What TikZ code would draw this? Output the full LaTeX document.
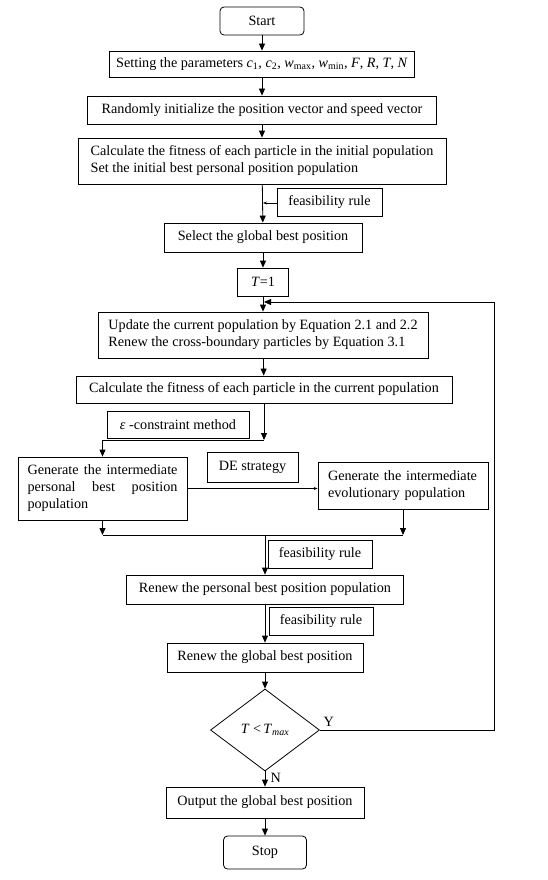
\documentclass[tikz,border=0pt]{standalone}
\usepackage{fontspec}
\setmainfont{Liberation Serif}
\usetikzlibrary{shapes.geometric,arrows.meta}

\newcommand\fullline[1]{\makebox[150pt][s]{#1}}

\begin{document}
\begin{tikzpicture}[x=1pt,y=-1pt,
    font=\fontsize{14.2}{17}\selectfont,
    line width=0.8pt,
    box/.style={draw, rectangle, inner sep=2pt},
    term/.style={draw, rounded corners=4pt, inner sep=2pt},
    note/.style={draw, rectangle, inner sep=2pt},
    arr/.style={-{Triangle[length=7pt,width=6pt]}},
    thin arr/.style={-{Stealth[length=4pt,width=3pt]}, line width=0.5pt}]
    \useasboundingbox (0,0) rectangle (547,880);

    % Initialisation
    \node[term, minimum width=84pt, minimum height=28pt] (start) at (262,21) {Start};
    \node[box, minimum width=305pt, minimum height=26pt] (set) at (262,64)
        {Setting the parameters \textit{c}\textsubscript{1}, \textit{c}\textsubscript{2}, \textit{w}\textsubscript{max}, \textit{w}\textsubscript{min}, \textit{F}, \textit{R}, \textit{T}, \textit{N}};
    \node[box, minimum width=349pt, minimum height=28pt] (rand) at (262,110)
        {Randomly initialize the position vector and speed vector};
    \node[box, align=left, minimum width=368pt, minimum height=46pt] (calc) at (262,161)
        {Calculate the fitness of each particle in the initial population\\Set the initial best personal position population};
    \node[note, minimum width=105pt, minimum height=28pt] (fea1) at (329.5,202) {feasibility rule};
    \node[box, minimum width=198pt, minimum height=29pt] (select) at (263,237.5) {Select the global best position};
    \node[box, minimum width=51pt, minimum height=28pt] (t1) at (263,282) {\textit{T}=1};

    % Main loop
    \node[box, align=left, minimum width=330pt, minimum height=46pt] (update) at (263,335)
        {Update the current population by Equation 2.1 and 2.2\\Renew the cross-boundary particles by Equation 3.1};
    \node[box, minimum width=376pt, minimum height=27pt] (calc2) at (264,389.5)
        {Calculate the fitness of each particle in the current population};
    \node[note, minimum width=142pt, minimum height=27pt] (eps) at (178,424.5) {\textit{ε} -constraint method};
    \node[box, align=left, minimum width=169pt, minimum height=63pt] (gen1) at (102.5,488.5)
        {\fullline{Generate the intermediate}\\\fullline{personal best position}\\population};
    \node[note, minimum width=91pt, minimum height=30pt] (de) at (252.5,467) {DE strategy};
    \node[box, text width=150pt, align=left, inner xsep=10pt, minimum height=47pt] (gen2) at (403,485.5)
        {Generate the intermediate evolutionary population};
    \node[note, minimum width=104pt, minimum height=28pt] (fea2) at (320,554) {feasibility rule};
    \node[box, minimum width=277pt, minimum height=29pt] (renew1) at (265,589.5) {Renew the personal best position population};
    \node[note, minimum width=104pt, minimum height=28pt] (fea3) at (321,621) {feasibility rule};
    \node[box, minimum width=196pt, minimum height=29pt] (renew2) at (265,657.5) {Renew the global best position};
    \node[draw, diamond, aspect=1.33, inner sep=0pt, minimum width=109pt, minimum height=82pt] (dec) at (265,730)
        {\textit{T} \textless\,\textit{T}\textsubscript{\textit{max}}};

    % Output
    \node[box, minimum width=198pt, minimum height=31pt] (out) at (265,802.5) {Output the global best position};
    \node[term, minimum width=83pt, minimum height=33pt] (stop) at (265,852.5) {Stop};

    % Junction points
    \coordinate (j1) at (264,440);
    \coordinate (jl) at (102.5,535);
    \coordinate (jr) at (403,535);
    \coordinate (jm) at (265,535);
    \coordinate (back) at (494,302);
    \coordinate (loop) at (264,302);
    \coordinate (f1) at (263,203);

    % Connectors
    \draw[arr] (start) -- (set);
    \draw[arr] (set) -- (rand);
    \draw[arr] (rand) -- (calc);
    \draw[arr] (calc) -- (select);
    \draw[thin arr] (fea1.west |- f1) -- (f1);
    \draw[arr] (select) -- (t1);
    \draw[arr] (t1) -- (update);
    \draw[arr] (update) -- (calc2);
    \draw[arr] (calc2.south -| j1) -- (j1);
    \draw[arr] (j1) -| (gen1.north);
    \draw[thin arr] (gen1.east) -- (gen1.east -| gen2.west);
    \draw[arr] (gen1.south) -- (jl);
    \draw[arr] (gen2.south) -- (jr);
    \draw (jl) -- (jr);
    \draw[arr] (jm) -- (renew1);
    \draw[arr] (renew1) -- (renew2);
    \draw[arr] (renew2) -- (dec);
    \draw[arr] (dec) -- node[right=2pt, pos=0.4] {N} (out);
    \draw[arr] (out) -- (stop);
    \draw[arr] (dec.east) node[above right] {Y} -| (back) -- (loop);
\end{tikzpicture}
\end{document}
